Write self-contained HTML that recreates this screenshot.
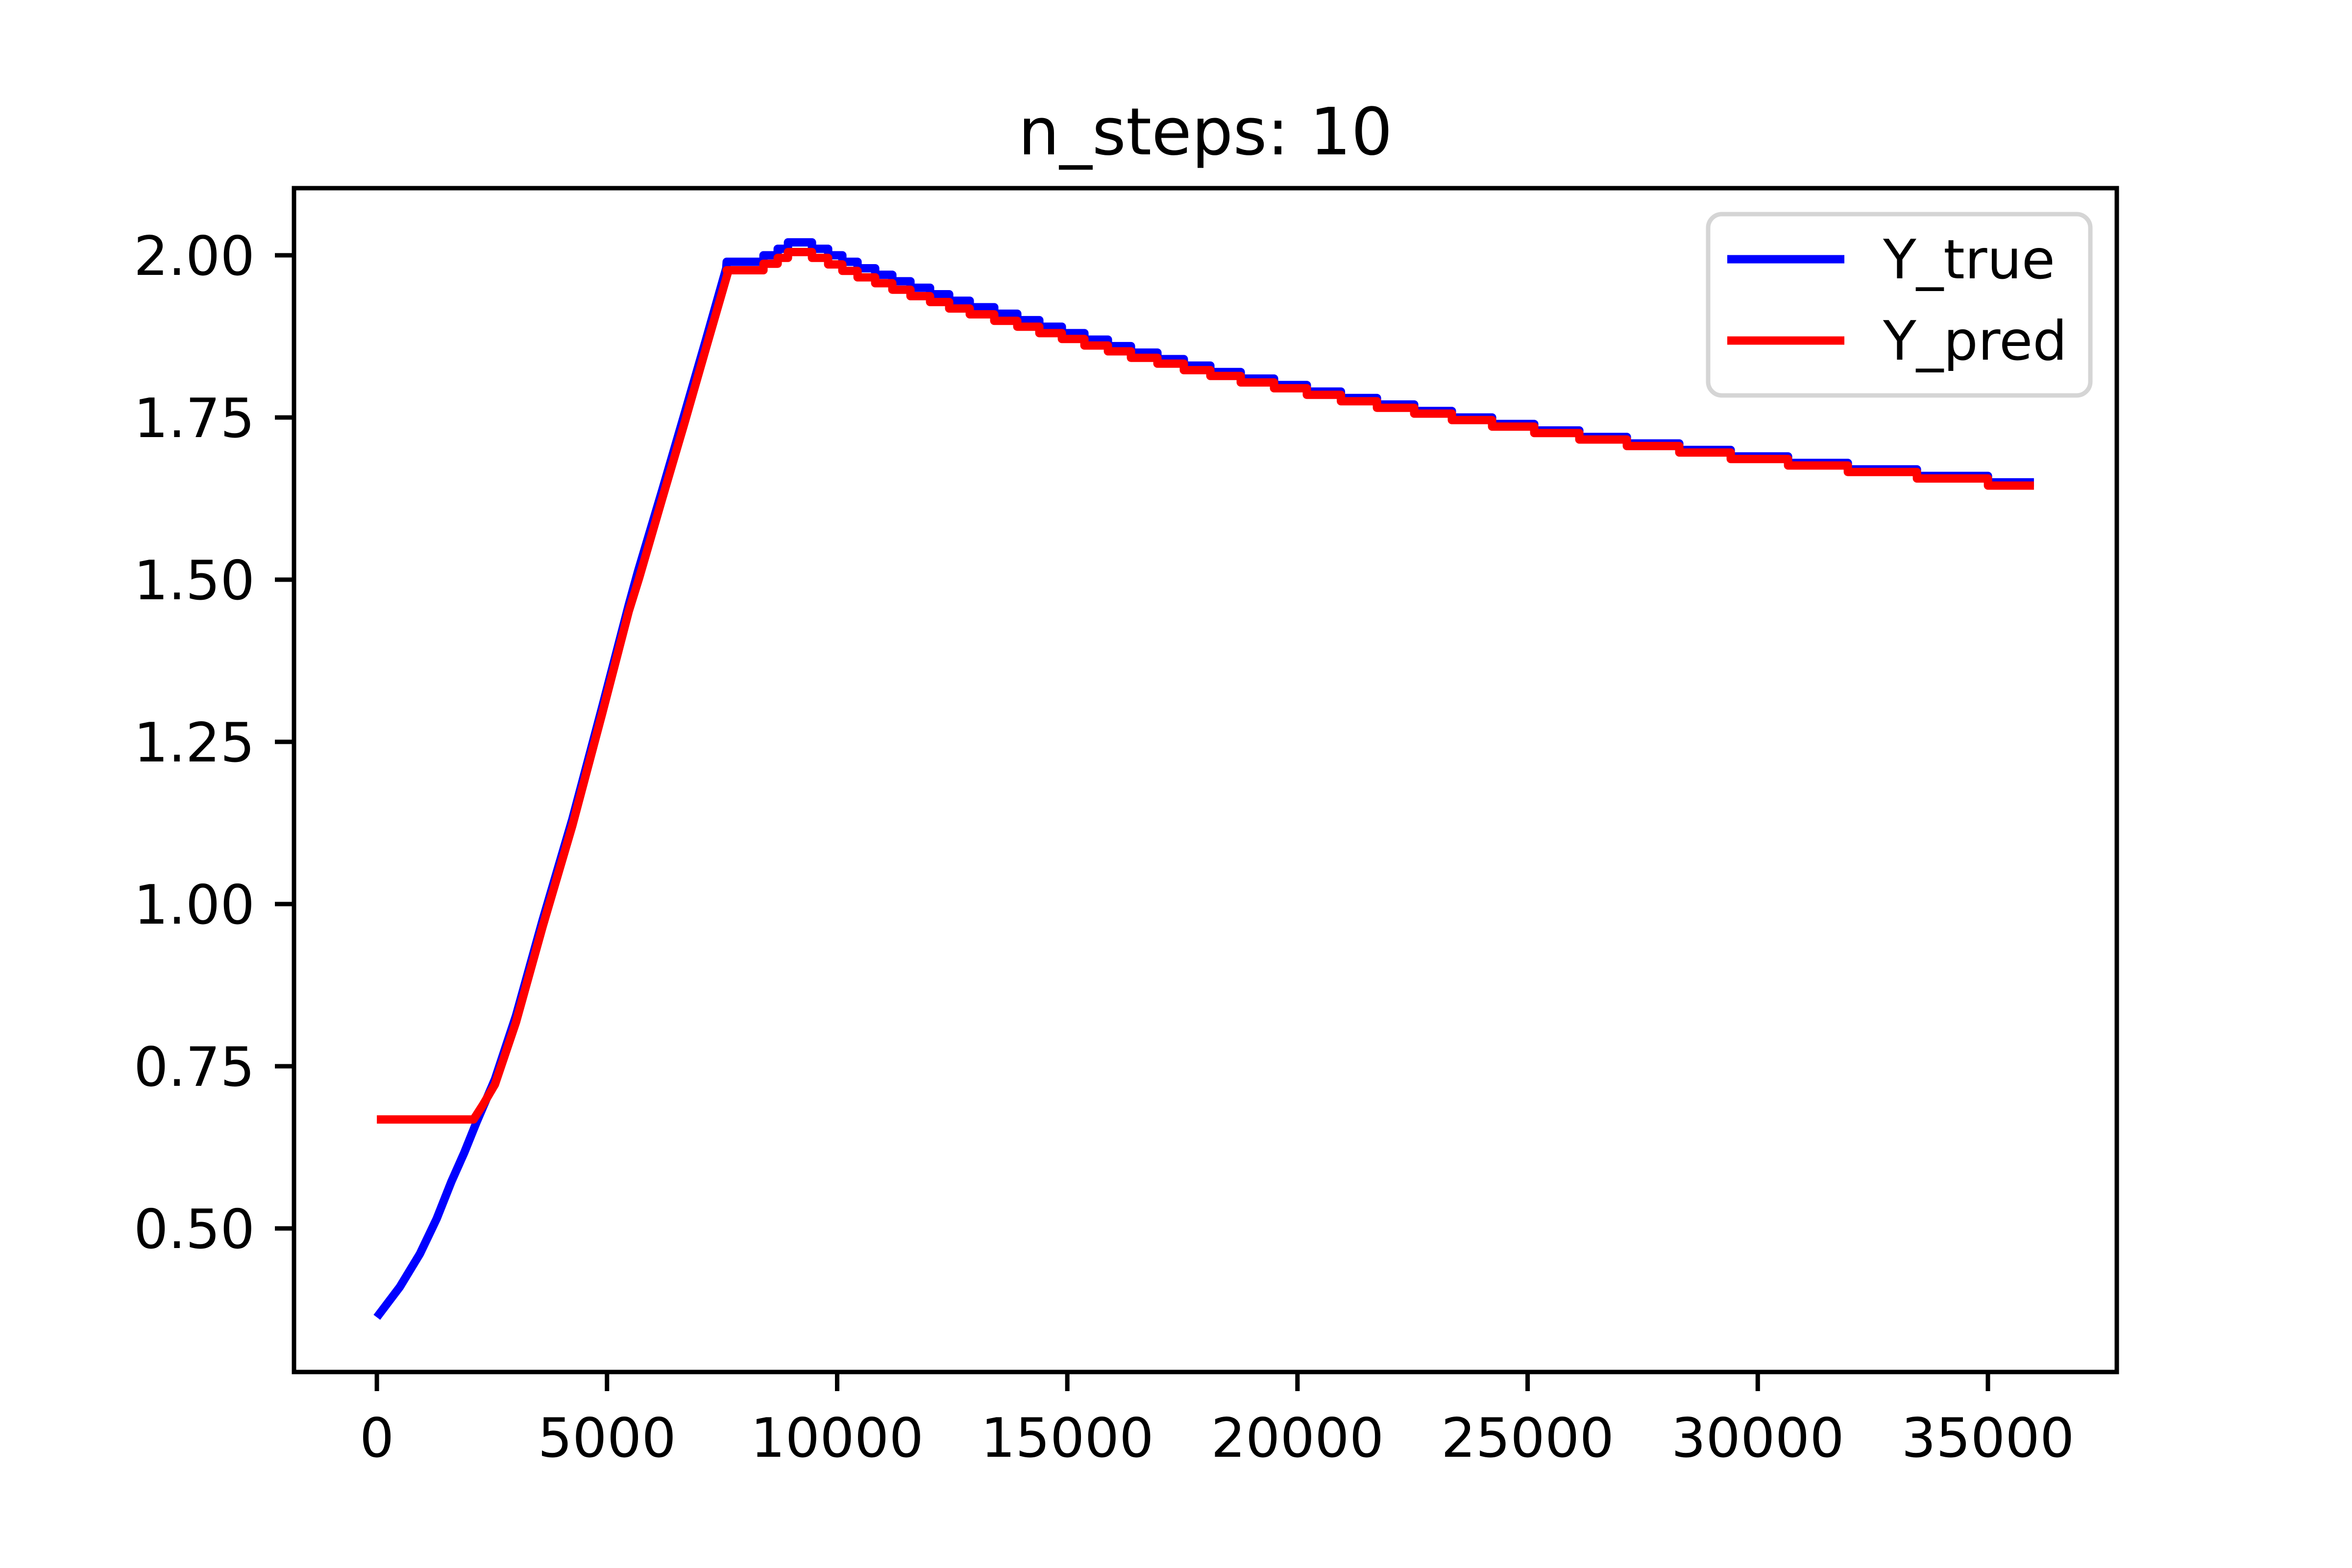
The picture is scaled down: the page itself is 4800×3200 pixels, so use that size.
<!DOCTYPE html>
<html><head><meta charset="utf-8"><style>
html,body{margin:0;padding:0;background:#fff}
svg{display:block}
text{font-family:"DejaVu Sans","Liberation Sans",sans-serif;fill:#000}
</style></head><body>
<svg id="chart" width="4800" height="3200" viewBox="0 0 4800 3200" xmlns="http://www.w3.org/2000/svg">
<rect x="0" y="0" width="4800" height="3200" fill="#fff"/>
<text x="2460" y="315" font-size="133" text-anchor="middle">n_steps: 10</text>
<g id="plot"></g>
<g id="axes"></g>
<g>
<rect x="3486" y="437" width="780" height="370" rx="28" ry="28" fill="#fff" fill-opacity="0.8" stroke="#d5d5d5" stroke-width="9"/>
<line x1="3525" y1="529" x2="3764" y2="529" stroke="#0000ff" stroke-width="17"/>
<text x="3843" y="568" font-size="111">Y_true</text>
<line x1="3525" y1="695" x2="3764" y2="695" stroke="#ff0000" stroke-width="17"/>
<text x="3843" y="734" font-size="111">Y_pred</text>
</g>
</svg>
<script>
const xTicks = [0, 5000, 10000, 15000, 20000, 25000, 30000, 35000];
const xTickLabels = ["0", "5000", "10000", "15000", "20000", "25000", "30000", "35000"];
const yTicks = [0.5, 0.75, 1.0, 1.25, 1.5, 1.75, 2.0];
const yTickLabels = ["0.50", "0.75", "1.00", "1.25", "1.50", "1.75", "2.00"];

// Rising part (continuous)
const trueRiseX = [0, 500, 937, 1300, 1618, 1900, 2161, 2566, 3023, 3600, 4247, 4900, 5472, 5674, 6200, 6685, 7150, 7590];
const trueRiseY = [0.363, 0.41, 0.461, 0.515, 0.572, 0.617, 0.663, 0.730, 0.828, 0.975, 1.131, 1.305, 1.461, 1.513, 1.638, 1.756, 1.87, 1.98];
const predRiseX = [0, 2100, 2300, 2566, 3023, 3600, 4247, 4900, 5472, 5700, 6200, 6685, 7150, 7640];
const predRiseY = [0.668, 0.668, 0.690, 0.722, 0.818, 0.965, 1.121, 1.295, 1.451, 1.503, 1.625, 1.742, 1.857, 1.977];

// Staircase part: start of each level
const stepStarts = [7600, 8399, 8708, 8931, 9453, 9804, 10113, 10443, 10826, 11199, 11593, 12018, 12434, 12881, 13413, 13913, 14392, 14882, 15372, 15883, 16383, 16958, 17532, 18107, 18767, 19491, 20204, 20944, 21727, 22536, 23355, 24228, 25144, 26123, 27156, 28295, 29413, 30658, 31957, 33458, 35001];
const stepEnd = 36000;
const trueLevels = [1.99, 2.00, 2.01, 2.02, 2.01, 2.00, 1.99, 1.98, 1.97, 1.96, 1.95, 1.94, 1.93, 1.92, 1.91, 1.90, 1.89, 1.88, 1.87, 1.86, 1.85, 1.84, 1.83, 1.82, 1.81, 1.80, 1.79, 1.78, 1.77, 1.76, 1.75, 1.74, 1.73, 1.72, 1.71, 1.70, 1.69, 1.68, 1.67, 1.66, 1.65];
const predLevels = [1.977, 1.987, 1.996, 2.005, 1.996, 1.986, 1.976, 1.966, 1.957, 1.947, 1.937, 1.928, 1.918, 1.909, 1.899, 1.890, 1.880, 1.871, 1.861, 1.852, 1.842, 1.833, 1.823, 1.814, 1.804, 1.795, 1.785, 1.775, 1.765, 1.756, 1.746, 1.736, 1.726, 1.716, 1.706, 1.696, 1.686, 1.676, 1.666, 1.656, 1.645];

const L = 600, R = 4320, T = 384, B = 2800;
const xMin = -1800, xMax = 37800;
const yMin = 0.2787, yMax = 2.1035;
function sx(v){ return L + (v - xMin) / (xMax - xMin) * (R - L); }
function sy(v){ return B - (v - yMin) / (yMax - yMin) * (B - T); }
const NS = "http://www.w3.org/2000/svg";
function mk(tag, attrs){ const e = document.createElementNS(NS, tag); for (const k in attrs) e.setAttribute(k, attrs[k]); return e; }

function buildPath(rx, ry, levels){
  let pts = [];
  for (let i = 0; i < rx.length; i++) pts.push([sx(rx[i]), sy(ry[i])]);
  for (let i = 0; i < levels.length; i++) {
    const x0 = stepStarts[i];
    const x1 = i + 1 < stepStarts.length ? stepStarts[i + 1] : stepEnd;
    pts.push([sx(x0), sy(levels[i])]);
    pts.push([sx(x1), sy(levels[i])]);
  }
  return "M" + pts.map(p => p[0].toFixed(1) + "," + p[1].toFixed(1)).join(" L");
}

const plot = document.getElementById("plot");
const pTrue = mk("path", {d: buildPath(trueRiseX, trueRiseY, trueLevels), fill: "none", stroke: "#0000ff", "stroke-width": 17, "stroke-linejoin": "round"});


plot.appendChild(pTrue);
const pPred = mk("path", {d: buildPath(predRiseX, predRiseY, predLevels), fill: "none", stroke: "#ff0000", "stroke-width": 17, "stroke-linejoin": "round"});


plot.appendChild(pPred);

const axes = document.getElementById("axes");
const frame = mk("rect", {x: L, y: T, width: R - L, height: B - T, fill: "none", stroke: "#000", "stroke-width": 9});


axes.appendChild(frame);

xTicks.forEach((v, i) => {
  const x = sx(v);
  const t = mk("line", {x1: x, y1: B, x2: x, y2: B + 39, stroke: "#000", "stroke-width": 9});
  
  
  axes.appendChild(t);
  const lb = mk("text", {x: x, y: 2973, "font-size": 111, "text-anchor": "middle"});
  
  
  lb.textContent = xTickLabels[i];
  axes.appendChild(lb);
});
yTicks.forEach((v, i) => {
  const y = sy(v);
  const t = mk("line", {x1: L - 39, y1: y, x2: L, y2: y, stroke: "#000", "stroke-width": 9});
  
  
  axes.appendChild(t);
  const lb = mk("text", {x: 520, y: y + 40, "font-size": 111, "text-anchor": "end"});
  
  
  lb.textContent = yTickLabels[i];
  axes.appendChild(lb);
});
</script>
</body></html>
